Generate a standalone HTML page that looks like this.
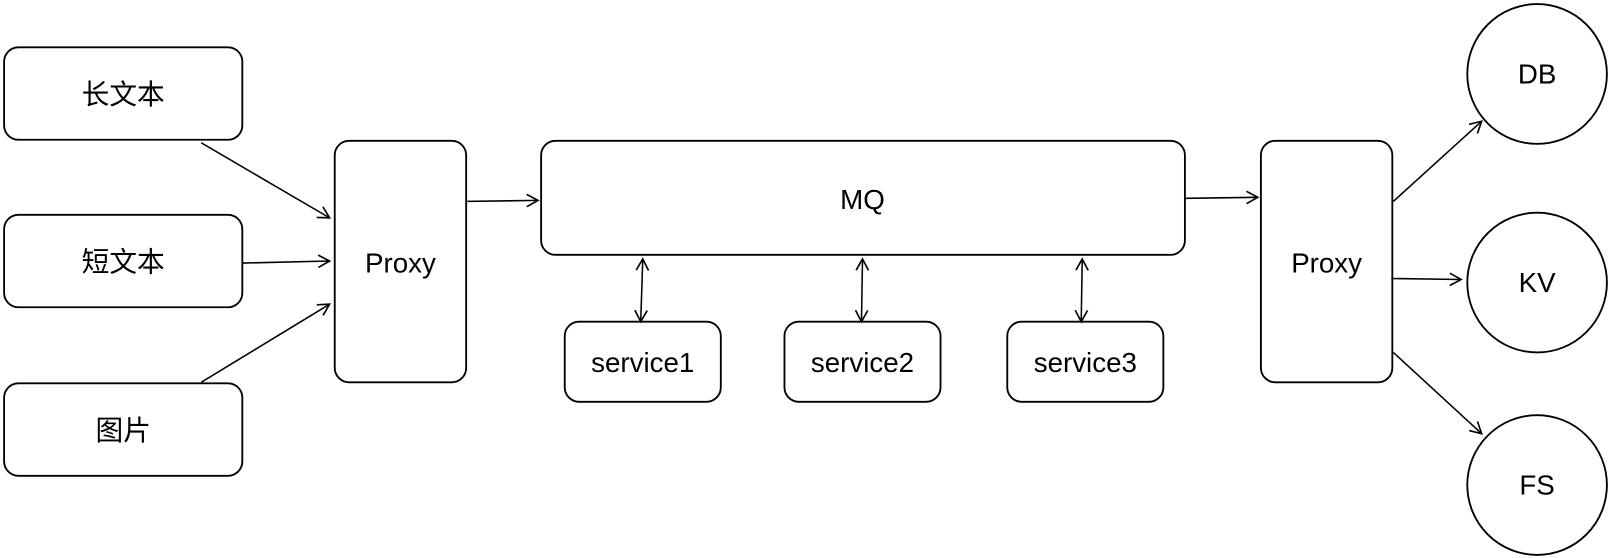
<!DOCTYPE html>
<html><head><meta charset="utf-8"><style>
html,body{margin:0;padding:0;background:#fff;}
svg{display:block;}
text{font-family:"Liberation Sans","Noto Sans CJK SC",sans-serif;font-size:27px;fill:#000;text-anchor:middle;dominant-baseline:central;}
</style></head><body>
<svg width="1610" height="558" viewBox="0 0 1568 543" preserveAspectRatio="none" xmlns="http://www.w3.org/2000/svg">
<defs>
<marker id="a" markerWidth="14" markerHeight="14" refX="12" refY="7" orient="auto" markerUnits="userSpaceOnUse">
<path d="M1,1 L12,7 L1,13" fill="none" stroke="#000" stroke-width="1.6"/>
</marker>
<marker id="b" markerWidth="14" markerHeight="14" refX="12" refY="7" orient="auto-start-reverse" markerUnits="userSpaceOnUse">
<path d="M1,1 L12,7 L1,13" fill="none" stroke="#000" stroke-width="1.6"/>
</marker>
</defs>
<g fill="#fff" stroke="#000" stroke-width="1.8">
<rect x="4" y="46" width="232" height="90" rx="14"/>
<rect x="4" y="209" width="232" height="90" rx="14"/>
<rect x="4" y="373" width="232" height="90" rx="14"/>
<rect x="326" y="137" width="128" height="235" rx="14"/>
<rect x="527" y="137" width="627" height="111" rx="14"/>
<rect x="550" y="313" width="152" height="78" rx="14"/>
<rect x="764" y="313" width="152" height="78" rx="14"/>
<rect x="981" y="313" width="152" height="78" rx="14"/>
<rect x="1228" y="137" width="128" height="235" rx="14"/>
<circle cx="1497" cy="72" r="68"/>
<circle cx="1497" cy="275" r="68"/>
<circle cx="1497" cy="472" r="68"/>
</g>
<g stroke="#000" stroke-width="1.5" fill="none">
<line x1="196" y1="139" x2="321" y2="212" marker-end="url(#a)"/>
<line x1="236" y1="256" x2="321" y2="254" marker-end="url(#a)"/>
<line x1="196" y1="372" x2="321" y2="296" marker-end="url(#a)"/>
<line x1="455" y1="196" x2="524" y2="195" marker-end="url(#a)"/>
<line x1="1155" y1="193" x2="1225" y2="192" marker-end="url(#a)"/>
<line x1="626" y1="252" x2="624" y2="313" marker-start="url(#b)" marker-end="url(#b)"/>
<line x1="840" y1="252" x2="839" y2="313" marker-start="url(#b)" marker-end="url(#b)"/>
<line x1="1054" y1="252" x2="1053" y2="313" marker-start="url(#b)" marker-end="url(#b)"/>
<line x1="1357" y1="196" x2="1443" y2="118" marker-end="url(#a)"/>
<line x1="1355" y1="271" x2="1423" y2="272" marker-end="url(#a)"/>
<line x1="1357" y1="343" x2="1443" y2="422" marker-end="url(#a)"/>
</g>
<text x="120" y="92">长文本</text>
<text x="120" y="255">短文本</text>
<text x="120" y="419">图片</text>
<text x="390" y="256">Proxy</text>
<text x="840" y="194">MQ</text>
<text x="626" y="353">service1</text>
<text x="840" y="353">service2</text>
<text x="1057" y="353">service3</text>
<text x="1292" y="256">Proxy</text>
<text x="1497" y="72">DB</text>
<text x="1497" y="275">KV</text>
<text x="1497" y="472">FS</text>
</svg>
</body></html>
